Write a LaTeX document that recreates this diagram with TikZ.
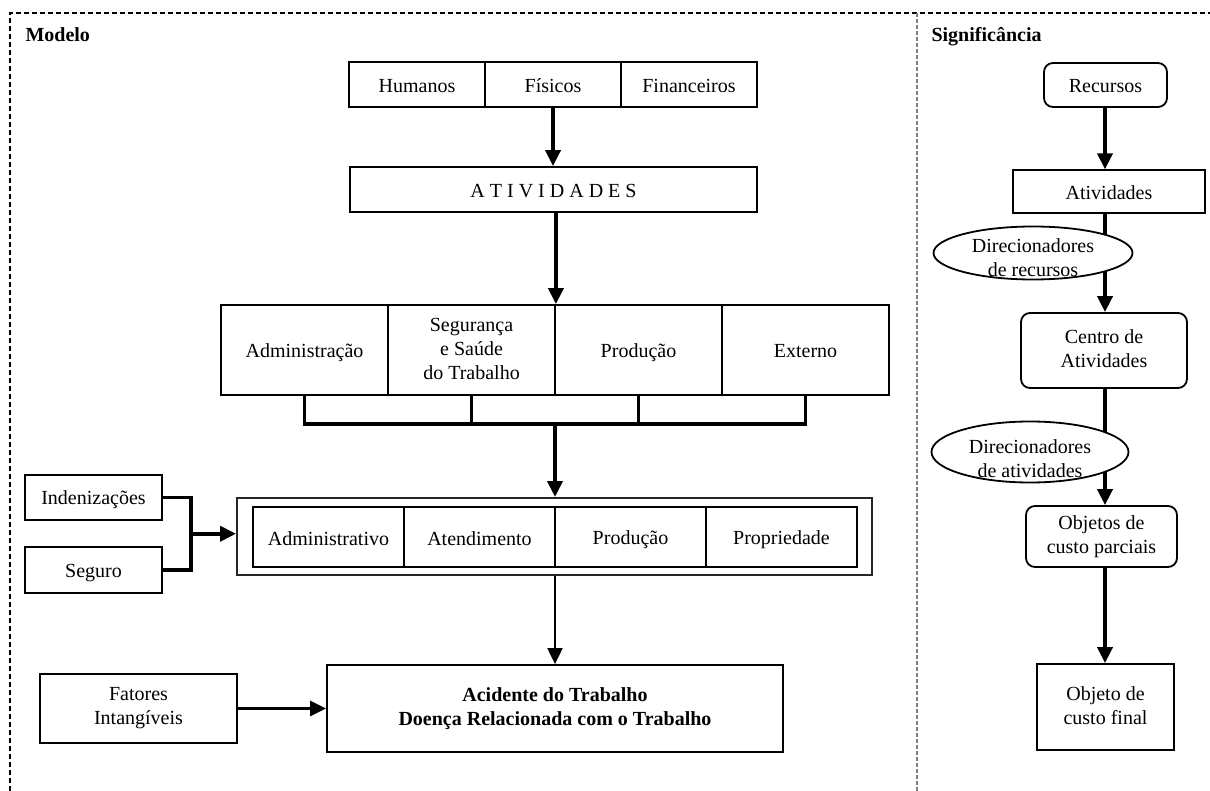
\documentclass[tikz,border=0pt]{standalone}
\usepackage{fontspec}
\setmainfont{Liberation Serif}
\usetikzlibrary{arrows.meta,shapes.geometric,calc}
\newcommand\dsize{\fontsize{20}{24}\selectfont}
\newcommand\cstrut{\vrule width 0pt height 19pt depth 3pt}

\begin{document}
\begin{tikzpicture}[x=1pt,y=-1pt,line join=miter,font=\dsize,
  cell/.style={draw,line width=1.8pt,inner sep=0pt,align=center,
    execute at begin node={\cstrut},execute at end node={\cstrut}},
  rcell/.style={cell,rounded corners=9pt},
  driver/.style={ellipse,draw,line width=1.8pt,fill=white,inner sep=0pt},
  tip/.style={-{Triangle[width=15pt,length=16pt]}},
  heavy/.style={line width=3.8pt},
  light/.style={line width=2pt}]
\useasboundingbox (0,0) rectangle (1210,791);
% frame and headings
\draw[line width=1.5pt,dash pattern=on 5pt off 3pt] (10,791) -- (10,13) -- (1210,13);
\draw[gray,line width=1.4pt,dash pattern=on 4pt off 2pt] (917,13) -- (917,791);
\node[font=\dsize\bfseries,anchor=base west] (modelo) at (22,42) {Modelo};
\node[font=\dsize\bfseries,anchor=base west] (signif) at (928,42) {Significância};

% modelo
\foreach \t [count=\i] in {Humanos,Físicos,Financeiros}
  \node[cell,minimum width=136pt,minimum height=45pt] (rec\i) at ({349+136*(\i-0.5)},84.5) {\t};
\node[cell,minimum width=407pt,minimum height=45pt] (ativ) at (553.5,189.5) {A T I V I D A D E S};
\foreach \t [count=\i] in {Administração,{Segurança\\e Saúde\\do Trabalho},Produção,Externo}
  \node[cell,minimum width=167pt,minimum height=90pt] (area\i) at ({221+167*(\i-0.5)},350) {\t};
\node[cell,line width=2pt,draw=black!85,minimum width=635pt,minimum height=77pt] (costs) at (554.5,536.5) {};
\foreach \t [count=\i] in {Administrativo,Atendimento,Produção,Propriedade}
  \node[cell,minimum width=151pt,minimum height=60pt] (cost\i) at ({253+151*(\i-0.5)},537) {\t};
\node[cell,minimum width=137pt,minimum height=45pt] (inden) at (93.5,497.5) {Indenizações};
\node[cell,minimum width=137pt,minimum height=46pt] (seg) at (93.5,570) {Seguro};
\node[cell,minimum width=197pt,minimum height=69pt] (fat) at (138.5,708.5) {Fatores\\Intangíveis};
\node[cell,minimum width=456pt,minimum height=87pt,font=\dsize\bfseries] (acid) at (555,708.5)
  {Acidente do Trabalho\\Doença Relacionada com o Trabalho};

\draw[heavy,tip] (rec2.south) -- (rec2.south |- ativ.north);
\draw[heavy,tip] (ativ.south) -- (ativ.south -| area2.east) -- (area2.north east);
\foreach \i in {1,...,4} \draw[heavy] (area\i.south) -- ++(0,28);
\draw[heavy] ($(area1.south)+(-1.9,28)$) -- ($(area4.south)+(1.9,28)$);
\coordinate (hub) at ($(area1.south)!0.5!(area4.south)+(0,28)$);
\draw[heavy,tip] (hub) -- (hub |- costs.north);
\draw[light,tip] (hub |- costs.south) -- (hub |- acid.north);
\draw[heavy] (inden.east) -- ++(28,0) |- (seg.east);
\coordinate (join) at ($(inden.east)!0.5!(seg.east)+(28,0)$);
\draw[heavy,tip] (join) -- (join -| costs.west);
\draw[line width=2.8pt,tip] (fat.east) -- (acid.west);

% significancia
\node[rcell,minimum width=123pt,minimum height=44pt] (recursos) at (1105.5,85) {Recursos};
\node[cell,line width=1.3pt,minimum width=192pt,minimum height=43pt] (atv) at (1109,191.5) {Atividades};
\node[rcell,minimum width=166pt,minimum height=75pt] (centro) at (1104,350.5) {Centro de\\Atividades};
\node[rcell,minimum width=151pt,minimum height=61pt] (parc) at (1101.5,536.5) {Objetos de\\custo parciais};
\node[cell,minimum width=137pt,minimum height=86pt] (final) at (1105.5,707) {Objeto de\\custo final};
\coordinate (spine) at (1105,0);
\draw[heavy,tip] (spine |- recursos.south) -- (spine |- atv.north);
\draw[heavy,tip] (spine |- atv.south) -- (spine |- centro.north);
\draw[heavy,tip] (spine |- centro.south) -- (spine |- parc.north);
\draw[heavy,tip] (spine |- parc.south) -- (spine |- final.north);
\node[driver,minimum width=199pt,minimum height=53pt] (dirrec) at (1033,253) {};
\node[align=center] (dirrectxt) at ($(dirrec)+(0,5)$) {Direcionadores\\de recursos};
\node[driver,minimum width=197pt,minimum height=61pt] (diratv) at (1030,452) {};
\node[align=center] (diratvtxt) at ($(diratv)+(0,7)$) {Direcionadores\\de atividades};
\end{tikzpicture}
\end{document}
